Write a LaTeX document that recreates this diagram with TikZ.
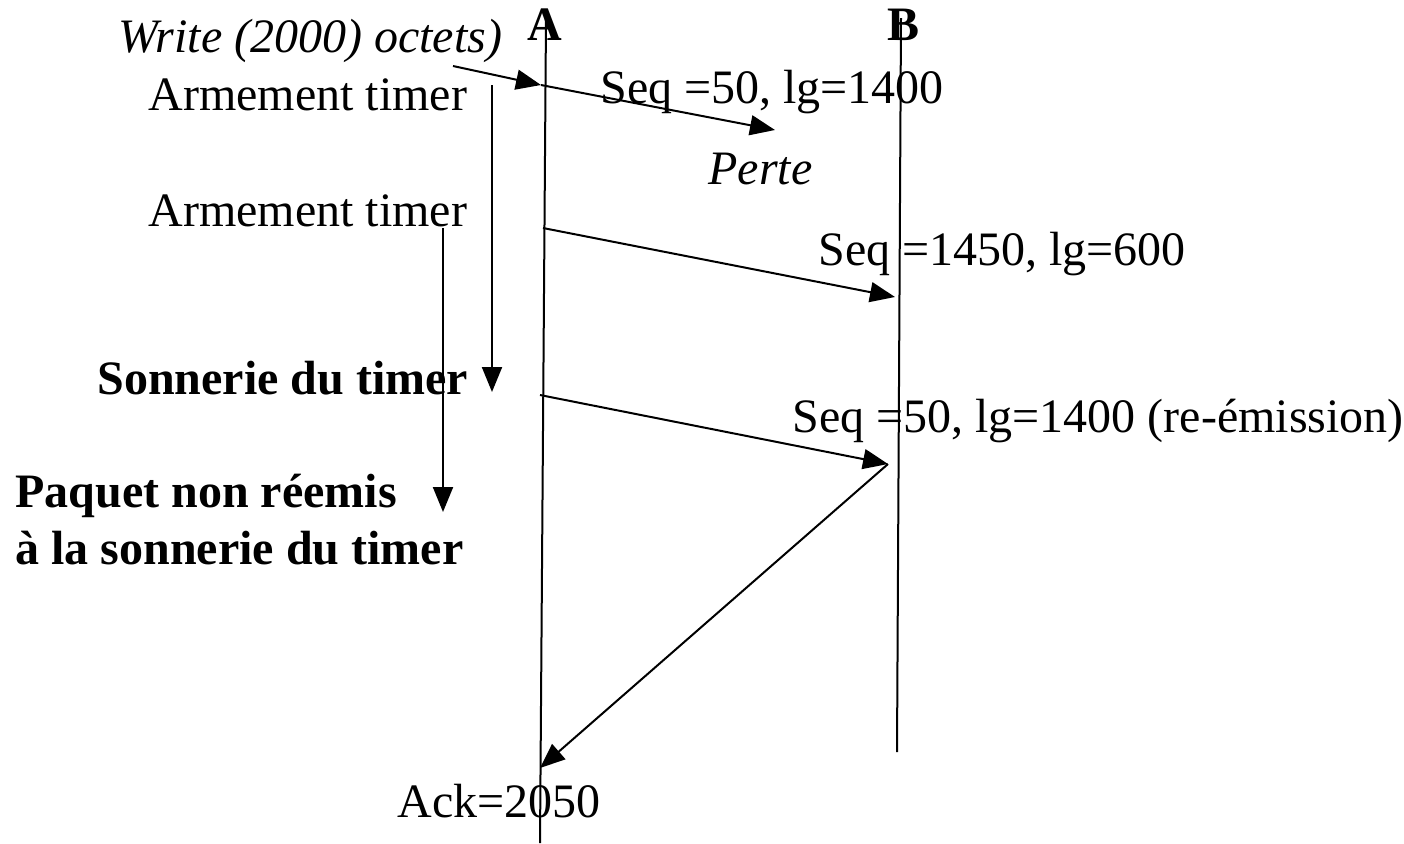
\documentclass[tikz,border=0pt]{standalone}
\usepackage{fontspec}
\setmainfont{Liberation Serif}
\usetikzlibrary{arrows.meta}
\begin{document}
\begin{tikzpicture}[x=0.5pt,y=-0.5pt,
  lbl/.style={inner sep=0pt,anchor=base west,font=\fontsize{24}{28}\selectfont},
  blbl/.style={lbl,font=\fontsize{24}{28}\selectfont\bfseries},
  ilbl/.style={lbl,font=\fontsize{24}{28}\selectfont\itshape},
  life/.style={line width=1pt},
  msg/.style={line width=1pt,-{Triangle[length=12.5pt,width=10pt]}},
  tim/.style={line width=1pt,-{Triangle[length=12.5pt,width=10pt]}}]
\path[use as bounding box] (0,0) rectangle (1404,843);
% lifelines
\coordinate (Atop) at (546,18);
\coordinate (Abot) at (540,843);
\coordinate (Btop) at (901,18);
\coordinate (Bbot) at (897,752);
\draw[life] (Atop) -- (Abot);
\draw[life] (Btop) -- (Bbot);
\node[blbl,anchor=base] (A) at (545,40) {A};
\node[blbl,anchor=base] (B) at (903,40) {B};
% labels
\node[ilbl] (write) at (118,52) {Write (2000) octets)};
\node[lbl] (arm1) at (148,110) {Armement timer};
\node[lbl] (seq1) at (600,103) {Seq =50, lg=1400};
\node[ilbl] (perte) at (708,184) {Perte};
\node[lbl] (arm2) at (148,226) {Armement timer};
\node[lbl] (seq2) at (818,265) {Seq =1450, lg=600};
\node[blbl] (sonn) at (97,394) {Sonnerie du timer};
\node[lbl] (seq3) at (792,432) {Seq =50, lg=1400 (re-émission)};
\node[blbl] (paq1) at (15,507) {Paquet non réemis};
\node[blbl] (paq2) at (15,564) {à la sonnerie du timer};
\node[lbl] (ack) at (397,817) {Ack=2050};
% points
\coordinate (w0) at (453,66);
\coordinate (a1) at (541,85);
\coordinate (lost) at (775,130);
\coordinate (a2) at (543,228);
\coordinate (b2) at (895,297);
\coordinate (a3) at (540,395);
\coordinate (b3) at (888,464);
\coordinate (a4) at (540,768);
\coordinate (t1s) at (492,85);
\coordinate (t1e) at (492,392);
\coordinate (t2s) at (443,228);
\coordinate (t2e) at (443,512);
% arrows
\draw[msg] (w0) -- (a1);
\draw[msg] (a1) -- (lost);
\draw[msg] (a2) -- (b2);
\draw[msg] (a3) -- (b3);
\draw[msg] (b3) -- (a4);
\draw[tim] (t1s) -- (t1e);
\draw[tim] (t2s) -- (t2e);
\end{tikzpicture}
\end{document}
